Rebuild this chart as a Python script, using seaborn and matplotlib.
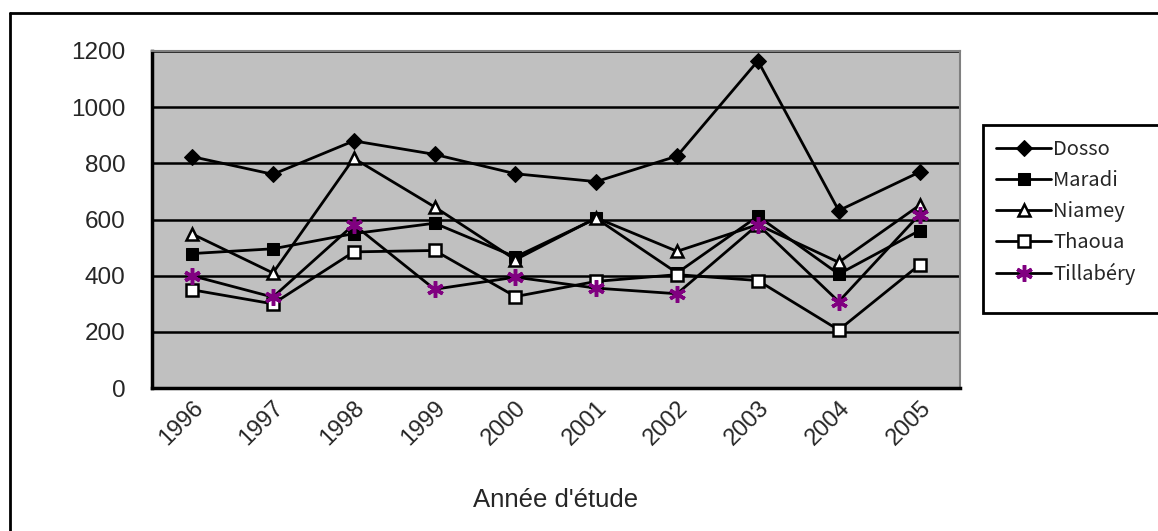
import pandas as pd
import numpy as np
import matplotlib
matplotlib.use("Agg")
import matplotlib.pyplot as plt
import seaborn as sns
from matplotlib.lines import Line2D
from matplotlib.patches import Rectangle

# Données
years = ["1996", "1997", "1998", "1999", "2000", "2001", "2002", "2003", "2004", "2005"]
dosso = [824, 761, 880, 832, 763, 735, 826, 1165, 632, 769]
maradi = [479, 496, 550, 587, 467, 604, 410, 612, 406, 561]
niamey = [549, 410, 818, 645, 457, 606, 487, 582, 448, 651]
thaoua = [350, 300, 485, 490, 326, 380, 404, 383, 207, 439]
tillabery = [400, 324, 582, 352, 395, 356, 336, 582, 308, 618]
series_names = ["Dosso", "Maradi", "Niamey", "Thaoua", "Tillabéry"]

df = pd.DataFrame({
    "annee": years * 5,
    "pos": list(range(len(years))) * 5,
    "valeur": dosso + maradi + niamey + thaoua + tillabery,
    "site": np.repeat(series_names, len(years)),
})

sns.set_style("white")
plt.rcParams["font.family"] = ["Liberation Sans", "DejaVu Sans"]

W, H = 1158, 531
fig = plt.figure(figsize=(W / 100, H / 100), dpi=100)
ax = fig.add_axes([0.131, 0.269, 0.698, 0.635])
ax.set_facecolor("#c0c0c0")

styles = {
    "Dosso": dict(marker="D", markerfacecolor="black", markeredgecolor="black", markersize=8),
    "Maradi": dict(marker="s", markerfacecolor="black", markeredgecolor="black", markersize=9),
    "Niamey": dict(marker="^", markerfacecolor="white", markeredgecolor="black", markersize=9, markeredgewidth=1.8),
    "Thaoua": dict(marker="s", markerfacecolor="white", markeredgecolor="black", markersize=9, markeredgewidth=1.8),
    "Tillabéry": dict(marker=(6, 2, 0), markerfacecolor="#800080", markeredgecolor="#800080", markersize=12, markeredgewidth=2.5),
}

for name in series_names:
    sub = df[df["site"] == name]
    sns.lineplot(data=sub, x="pos", y="valeur", ax=ax, color="black", linewidth=2,
                 label=name, legend=False, **styles[name])

# grille et axes façon Excel
ax.set_ylim(0, 1200)
ax.set_yticks(range(0, 1201, 200))
ax.set_xlim(-0.5, len(years) - 0.5)
ax.set_xticks(range(len(years)))
ax.set_xticklabels(years, rotation=45, ha="right", va="top", rotation_mode="anchor")
ax.set_xticks(np.arange(-0.5, len(years), 1), minor=True)
ax.tick_params(axis="x", which="major", length=0, labelsize=17, pad=6)
ax.tick_params(axis="x", which="minor", direction="in", length=6, width=2)
ax.tick_params(axis="y", direction="in", length=6, width=2, labelsize=17.5, pad=19)
ax.grid(axis="y", color="black", linewidth=1.8)
ax.set_axisbelow(True)
for s in ["left", "bottom"]:
    ax.spines[s].set_color("black")
    ax.spines[s].set_linewidth(2.5)
for s in ["top", "right"]:
    ax.spines[s].set_color("#808080")
    ax.spines[s].set_linewidth(1.5)
ax.set_xlabel("Année d'étude", fontsize=18.5, labelpad=28)
ax.set_ylabel("")

# légende : cadre dessiné à part, entrées sans cadre
fig.add_artist(Rectangle((983 / W, 1 - 313 / H), 200 / W, 188 / H, transform=fig.transFigure,
                         facecolor="white", edgecolor="black", linewidth=2))
handles, labels = ax.get_legend_handles_labels()
leg = fig.legend(handles, labels, loc="upper left", bbox_to_anchor=(996 / W, 1 - 139 / H),
                 frameon=False, handlelength=2.75, borderpad=0, labelspacing=0.5,
                 handletextpad=0.1, borderaxespad=0,
                 prop={"family": ["Noto Sans CJK JP", "DejaVu Sans"], "size": 14.5})

# cadre extérieur
fig.add_artist(Line2D([10 / W, 1], [1 - 13 / H, 1 - 13 / H], color="black", linewidth=2))
fig.add_artist(Line2D([10 / W, 10 / W], [0, 1 - 13 / H], color="black", linewidth=2))

fig.savefig("out.png", dpi=100)
